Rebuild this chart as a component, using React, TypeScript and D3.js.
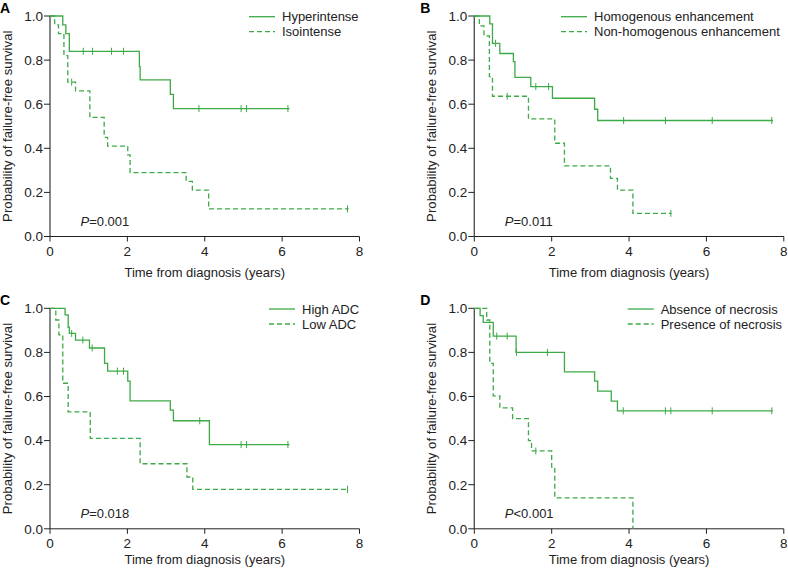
import React from "react";
import * as d3 from "d3";

const xTicks = [0, 2, 4, 6, 8];
const yTicks = [0, 0.2, 0.4, 0.6, 0.8, 1.0];
const xTitle = "Time from diagnosis (years)";
const yTitle = "Probability of failure-free survival";

// Panel A
const hyperT = [0.33, 0.41, 0.5, 2.31, 2.33, 3.11, 3.19];
const hyperS = [0.96, 0.92, 0.84, 0.77, 0.71, 0.645, 0.58];
const hyperCensor = [0.86, 1.1, 1.59, 1.9, 3.85, 4.94, 5.08, 6.15];
const hyperEnd = 6.19;
const isoT = [0.12, 0.22, 0.36, 0.46, 0.66, 1.03, 1.4, 1.49, 2.01, 2.07, 3.52, 3.68, 4.1];
const isoS = [0.96, 0.92, 0.82, 0.7, 0.66, 0.54, 0.45, 0.41, 0.37, 0.29, 0.25, 0.21, 0.125];
const isoCensor = [0.56, 7.69];
const isoEnd = 7.72;

// Panel B
const homT = [0.4, 0.47, 0.66, 1.01, 1.05, 1.46, 2.02, 3.11, 3.19];
const homS = [0.964, 0.876, 0.83, 0.793, 0.722, 0.68, 0.627, 0.577, 0.526];
const homCensor = [0.55, 1.59, 1.92, 3.86, 4.94, 6.15, 7.69];
const homEnd = 7.72;
const nonT = [0.13, 0.25, 0.39, 0.47, 1.4, 2.08, 2.33, 3.52, 3.7, 4.1];
const nonS = [0.955, 0.91, 0.725, 0.636, 0.533, 0.423, 0.32, 0.264, 0.21, 0.105];
const nonCensor = [0.85, 5.08];
const nonEnd = 5.1;

// Panel C
const highT = [0.39, 0.47, 0.5, 0.66, 1.02, 1.41, 1.49, 2.01, 2.07, 3.11, 3.19, 4.12];
const highS = [0.97, 0.914, 0.886, 0.856, 0.82, 0.75, 0.715, 0.67, 0.58, 0.538, 0.49, 0.382];
const highCensor = [0.56, 0.85, 1.09, 1.74, 1.9, 3.87, 4.94, 5.08, 6.15];
const highEnd = 6.19;
const lowT = [0.15, 0.23, 0.33, 0.47, 1.04, 2.33, 3.54, 3.69];
const lowS = [0.947, 0.88, 0.66, 0.53, 0.41, 0.295, 0.235, 0.179];
const lowCensor = [7.69];
const lowEnd = 7.72;

// Panel D
const absT = [0.15, 0.23, 0.49, 1.08, 2.33, 3.11, 3.19, 3.54, 3.7];
const absS = [0.967, 0.936, 0.874, 0.8, 0.712, 0.67, 0.624, 0.579, 0.535];
const absCensor = [0.58, 0.85, 1.09, 1.89, 3.85, 4.94, 5.08, 6.15, 7.69];
const absEnd = 7.72;
const presT = [0.32, 0.4, 0.49, 0.66, 0.99, 1.4, 1.48, 2.0, 2.08, 4.1];
const presS = [0.947, 0.75, 0.603, 0.548, 0.5, 0.4, 0.353, 0.28, 0.14, 0];
const presCensor = [1.59];
const presEnd = 4.1;

type Series = { name: string; t: number[]; s: number[]; censor: number[]; end: number; dashed: boolean };
type Panel = { letter: string; left: number; top: number; p: string; legendX: number; titleOff: number; series: Series[] };

const panels: Panel[] = [
  {
    letter: "A", left: 50, top: 16, p: "=0.001", legendX: 249, titleOff: 40,
    series: [
      { name: "Hyperintense", t: hyperT, s: hyperS, censor: hyperCensor, end: hyperEnd, dashed: false },
      { name: "Isointense", t: isoT, s: isoS, censor: isoCensor, end: isoEnd, dashed: true },
    ],
  },
  {
    letter: "B", left: 474.3, top: 16, p: "=0.011", legendX: 561, titleOff: 40,
    series: [
      { name: "Homogenous enhancement", t: homT, s: homS, censor: homCensor, end: homEnd, dashed: false },
      { name: "Non-homogenous enhancement", t: nonT, s: nonS, censor: nonCensor, end: nonEnd, dashed: true },
    ],
  },
  {
    letter: "C", left: 50, top: 308.3, p: "=0.018", legendX: 269, titleOff: 35,
    series: [
      { name: "High ADC", t: highT, s: highS, censor: highCensor, end: highEnd, dashed: false },
      { name: "Low ADC", t: lowT, s: lowS, censor: lowCensor, end: lowEnd, dashed: true },
    ],
  },
  {
    letter: "D", left: 474.3, top: 308.3, p: "<0.001", legendX: 627.7, titleOff: 35,
    series: [
      { name: "Absence of necrosis", t: absT, s: absS, censor: absCensor, end: absEnd, dashed: false },
      { name: "Presence of necrosis", t: presT, s: presS, censor: presCensor, end: presEnd, dashed: true },
    ],
  },
];

const W = 309.5;
const H = 220.5;
const GREEN = "#3caa46";
const FONT = "'Liberation Sans', Arial, sans-serif";

function survAt(sr: Series, time: number) {
  let v = 1;
  for (let i = 0; i < sr.t.length; i++) if (sr.t[i] <= time) v = sr.s[i];
  return v;
}

function PanelView({ pn }: { pn: Panel }) {
  const x = d3.scaleLinear().domain([0, 8]).range([pn.left, pn.left + W]);
  const y = d3.scaleLinear().domain([0, 1]).range([pn.top + H, pn.top]);
  const line = d3
    .line<[number, number]>()
    .x((d) => x(d[0]))
    .y((d) => y(d[1]))
    .curve(d3.curveStepAfter);
  const bottom = pn.top + H;
  return (
    <g>
      <text x={pn.left - 50 + (pn.left > 100 ? -4 : 0)} y={pn.top - 3} fontSize={14} fontWeight="bold" fontFamily={FONT}>
        {pn.letter}
      </text>
      {/* y axis */}
      <line x1={pn.left} x2={pn.left} y1={pn.top} y2={bottom} stroke="#555" strokeWidth={1.4} />
      {yTicks.map((v) => (
        <g key={v}>
          <line x1={pn.left - 6} x2={pn.left} y1={y(v)} y2={y(v)} stroke="#222" />
          <text x={pn.left - 7} y={y(v) + 4.8} textAnchor="end" fontSize={13.5} fontFamily={FONT} fill="#222">
            {d3.format(".1f")(v)}
          </text>
        </g>
      ))}
      {/* x axis */}
      <line x1={pn.left} x2={pn.left + W} y1={bottom} y2={bottom} stroke="#222" strokeWidth={1} />
      {xTicks.map((v) => (
        <g key={v}>
          <line x1={x(v)} x2={x(v)} y1={bottom} y2={bottom + 5} stroke="#222" />
          <text x={x(v)} y={bottom + 19} textAnchor="middle" fontSize={13.5} fontFamily={FONT} fill="#222">
            {v}
          </text>
        </g>
      ))}
      <text x={pn.left + W / 2} y={bottom + pn.titleOff} textAnchor="middle" fontSize={13} fontFamily={FONT} fill="#222">
        {xTitle}
      </text>
      <text
        transform={`translate(${pn.left - 38.5},${pn.top + H / 2}) rotate(-90)`}
        textAnchor="middle"
        fontSize={13.2}
        fontFamily={FONT}
        fill="#222"
      >
        {yTitle}
      </text>
      {/* curves */}
      {pn.series.map((sr) => {
        const pts: [number, number][] = [[0, 1]];
        sr.t.forEach((t, i) => pts.push([t, sr.s[i]]));
        pts.push([sr.end, sr.s[sr.s.length - 1]]);
        return (
          <g key={sr.name}>
            <path d={line(pts) || ""} fill="none" stroke={GREEN} strokeWidth={1.3} strokeDasharray={sr.dashed ? "5,3" : undefined} />
            {sr.censor.map((c, i) => (
              <line key={i} x1={x(c)} x2={x(c)} y1={y(survAt(sr, c)) - 3.5} y2={y(survAt(sr, c)) + 3.5} stroke={GREEN} strokeWidth={1} />
            ))}
          </g>
        );
      })}
      {/* legend */}
      {pn.series.map((sr, i) => (
        <g key={"lg" + i}>
          <line
            x1={pn.legendX}
            x2={pn.legendX + 26}
            y1={pn.top + 0.7 + i * 15}
            y2={pn.top + 0.7 + i * 15}
            stroke={GREEN}
            strokeWidth={1.3}
            strokeDasharray={sr.dashed ? "5,3" : undefined}
          />
          <text x={pn.legendX + 33} y={pn.top + 5.2 + i * 15} fontSize={13} fontFamily={FONT} fill="#222">
            {sr.name}
          </text>
        </g>
      ))}
      <text x={pn.left + 30.5} y={bottom - 11} fontSize={13} fontFamily={FONT} fill="#222">
        <tspan fontStyle="italic">P</tspan>
        {pn.p}
      </text>
    </g>
  );
}

export default function App() {
  return (
    <svg width={788} height={571} style={{ position: "absolute", left: 0, top: 0, background: "#fff" }}>
      <rect width={788} height={571} fill="#fff" />
      {panels.map((pn) => (
        <PanelView key={pn.letter} pn={pn} />
      ))}
    </svg>
  );
}
